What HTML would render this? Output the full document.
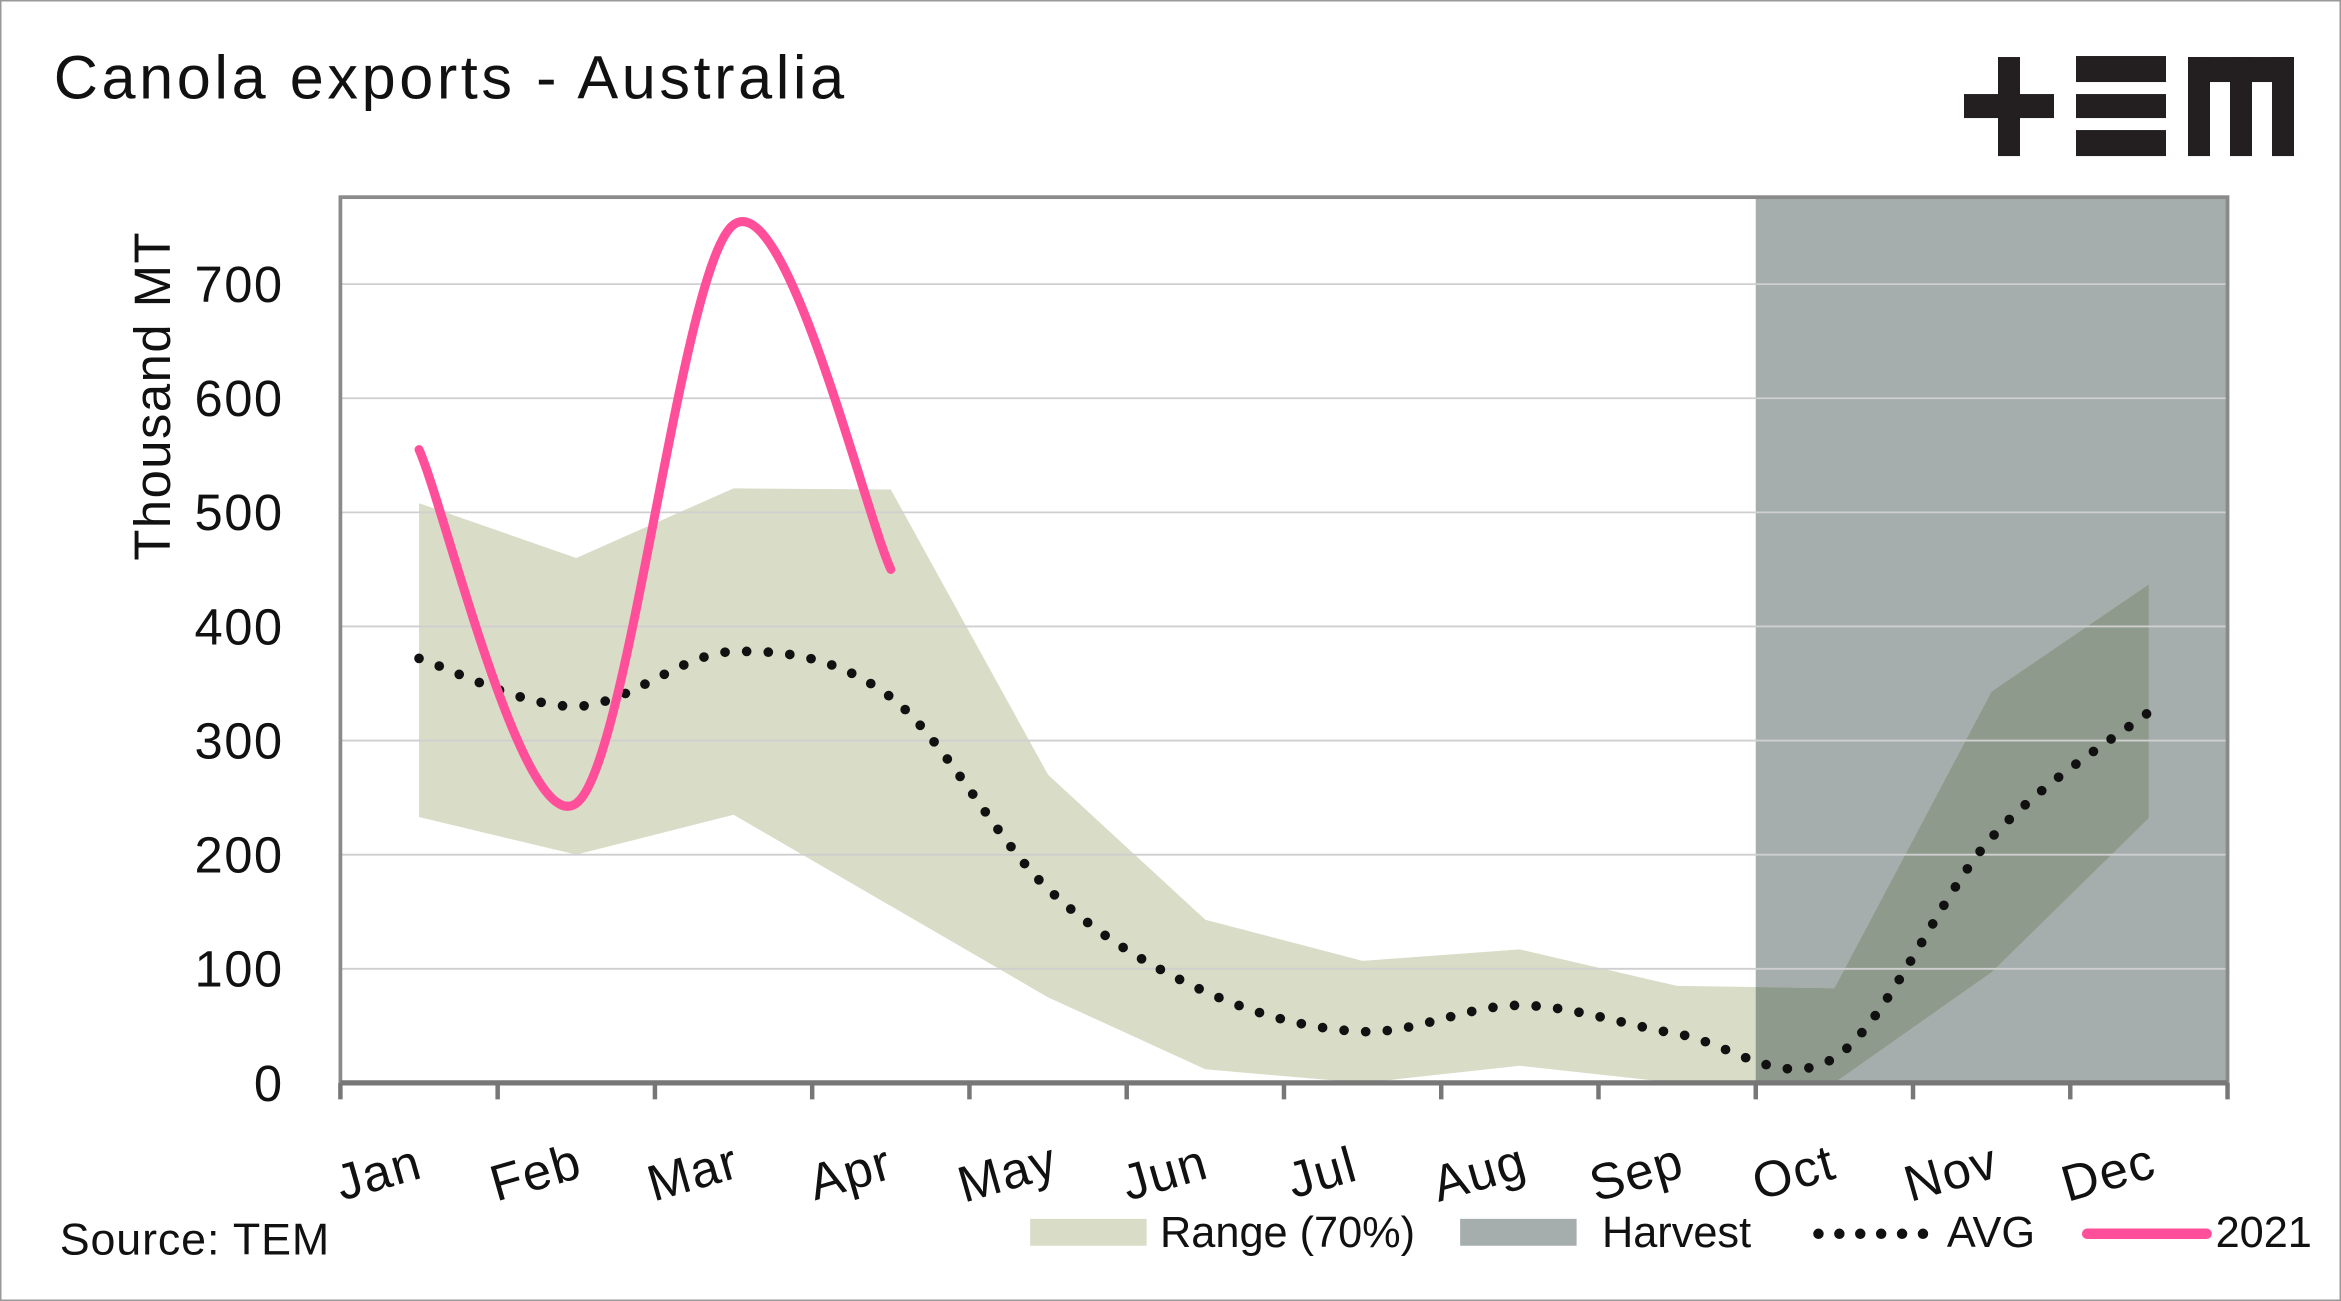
<!DOCTYPE html>
<html><head><meta charset="utf-8"><style>
html,body{margin:0;padding:0;background:#fff;}
svg{display:block;font-family:"Liberation Sans",sans-serif;}
</style></head><body>
<svg id="chart" width="2341" height="1301" viewBox="0 0 1568 871" preserveAspectRatio="none" xmlns="http://www.w3.org/2000/svg">
<rect x="0" y="0" width="1568" height="871" fill="#fff" stroke="#999" stroke-width="2"/>
<text x="36" y="66" font-size="41" letter-spacing="2.4" fill="#111">Canola exports - Australia</text>
<g transform="scale(0.6698)" fill="#231f20">
<rect x="1998" y="57" width="22" height="99"/><rect x="1964" y="94" width="90" height="24"/>
<rect x="2076" y="56" width="90" height="26"/><rect x="2076" y="94" width="90" height="24"/><rect x="2076" y="130" width="90" height="26"/>
<rect x="2188" y="57" width="106" height="25"/><rect x="2188" y="57" width="22" height="99"/><rect x="2230" y="57" width="22" height="99"/><rect x="2272" y="57" width="22" height="99"/>
</g>
<g id="plot"></g>
<text transform="translate(114,265) rotate(-90)" text-anchor="middle" font-size="34" letter-spacing="1" fill="#111">Thousand MT</text>
<text x="40" y="840" font-size="30" letter-spacing="0.6" fill="#111">Source: TEM</text>
<g font-size="29" fill="#111">
<g><rect x="690" y="816" width="78" height="18" fill="#d9dcc6"/><text x="777" y="835">Range (70%)</text></g>
<g><rect x="978" y="816" width="78" height="18" fill="#a5adad"/><text x="1073" y="835">Harvest</text></g>
<g><line x1="1218" y1="826" x2="1292" y2="826" stroke="#111" stroke-width="7" stroke-linecap="round" stroke-dasharray="0 14"/><text x="1304" y="835">AVG</text></g>
<g><line x1="1398" y1="826" x2="1478" y2="826" stroke="#ff4f9a" stroke-width="7" stroke-linecap="round"/><text x="1484" y="835">2021</text></g>
</g>
</svg>
<script>
const months=["Jan","Feb","Mar","Apr","May","Jun","Jul","Aug","Sep","Oct","Nov","Dec"];
const rangeUpper=[508,460,521,520,270,143,107,117,85,83,343,437];
const rangeLower=[233,200,235,155,75,12,0,15,0,0,97,232];
const avgValues=[372,330,378,338,170,80,45,68,43,22,215,325];
const y2021Values=[555,245,752,450];
const yTicks=[0,100,200,300,400,500,600,700];
const harvestStart=9;
const NS="http://www.w3.org/2000/svg";
const X0=228,X1=1492,Y0=725,Ytop=132;
const bw=(X1-X0)/12;
function xs(i){return X0+bw*(i+0.5);}
function ys(v){return Y0-v*0.764;}
const g=document.getElementById('plot');
function mk(t,a){const e=document.createElementNS(NS,t);for(const k in a)e.setAttribute(k,a[k]);g.appendChild(e);return e;}
function smooth(pts){let d="M"+pts[0][0]+","+pts[0][1];for(let i=0;i<pts.length-1;i++){const p0=pts[i-1]||pts[i],p1=pts[i],p2=pts[i+1],p3=pts[i+2]||p2;
d+=" C"+(p1[0]+(p2[0]-p0[0])/6)+","+(p1[1]+(p2[1]-p0[1])/6)+" "+(p2[0]-(p3[0]-p1[0])/6)+","+(p2[1]-(p3[1]-p1[1])/6)+" "+p2[0]+","+p2[1];}return d;}
const hx=X0+bw*harvestStart;
const defs=mk('defs',{});
const cp=document.createElementNS(NS,'clipPath');cp.setAttribute('id','hc');defs.appendChild(cp);
const cr=document.createElementNS(NS,'rect');cr.setAttribute('x',hx);cr.setAttribute('y',Ytop);cr.setAttribute('width',X1-hx);cr.setAttribute('height',Y0-Ytop);cp.appendChild(cr);
const harvest=mk('rect',{x:hx,y:Ytop,width:X1-hx,height:Y0-Ytop,fill:'#a5adad'});


let rp="M"+months.map((m,i)=>xs(i)+","+ys(rangeUpper[i])).join(" L");
for(let i=months.length-1;i>=0;i--)rp+=" L"+xs(i)+","+ys(rangeLower[i]);rp+="Z";
const range=mk('path',{d:rp,fill:'#d9dcc6'});


const range2=mk('path',{d:rp,fill:'#8e9a8b','clip-path':'url(#hc)'});


yTicks.forEach(v=>{
 if(v>0){const l=mk('line',{x1:X0,x2:X1,y1:ys(v),y2:ys(v),stroke:'#cfcfcf','stroke-width':1.2});
 
 }
 const t=mk('text',{x:190,y:ys(v)+12,'text-anchor':'end','font-size':34,'letter-spacing':1,fill:'#111'});t.textContent=v;
 
 
});
const fr=mk('rect',{x:X0,y:Ytop,width:X1-X0,height:Y0-Ytop,fill:'none',stroke:'#8a8a8a','stroke-width':2.5});


const xa=mk('line',{x1:X0,x2:X1,y1:Y0,y2:Y0,stroke:'#777','stroke-width':3.5});


for(let i=0;i<=12;i++){const tk=mk('line',{x1:X0+bw*i,x2:X0+bw*i,y1:Y0,y2:Y0+11,stroke:'#777','stroke-width':3});
 
 }
months.forEach((m,i)=>{const t=mk('text',{transform:'translate('+(xs(i)-24)+',796) rotate(-16)','text-anchor':'middle','font-size':34,'letter-spacing':1,fill:'#111'});t.textContent=m;
 
 });
const avg=mk('path',{d:smooth(avgValues.map((v,i)=>[xs(i),ys(v)])),fill:'none',stroke:'#111','stroke-width':6.5,'stroke-linecap':'round','stroke-dasharray':'0 14.5'});


const l21=mk('path',{d:smooth(y2021Values.map((v,i)=>[xs(i),ys(v)])),fill:'none',stroke:'#ff4f9a','stroke-width':6,'stroke-linecap':'round'});


</script>
</body></html>
